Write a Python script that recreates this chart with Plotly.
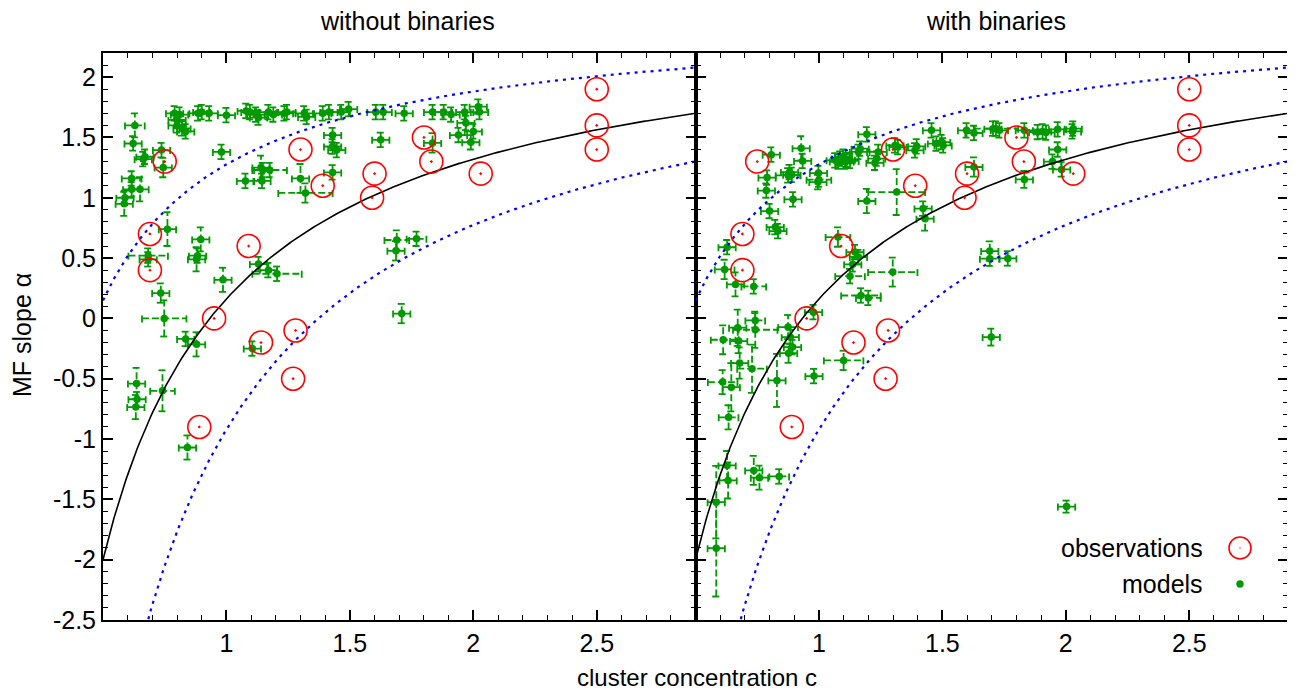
import plotly.graph_objects as go
import numpy as np

# ---------------- data ----------------
# observations (same in both panels)
obs_c = [0.75, 0.69, 0.69, 0.95, 1.09, 1.14, 1.28, 1.27, 0.89, 1.30, 1.39, 1.60, 1.59, 1.80, 1.83, 2.03, 2.50, 2.50, 2.50]
obs_a = [1.30, 0.70, 0.40, 0.00, 0.60, -0.20, -0.10, -0.50, -0.90, 1.40, 1.10, 1.20, 1.00, 1.50, 1.30, 1.20, 1.90, 1.60, 1.40]

# models without binaries
nb_c = [0.79, 0.81, 0.80, 0.80, 0.82, 0.835, 0.885, 0.90, 0.93, 1.00, 1.08, 1.095, 1.12, 1.13, 1.17, 1.19,
        1.235, 1.245, 1.315, 1.325, 1.39, 1.415, 1.465, 1.495, 1.605, 1.635, 1.72, 1.835, 1.88, 1.91, 1.965,
        2.025, 2.02, 1.97, 2.00, 1.94, 1.99, 1.43, 1.43, 1.447, 1.43, 1.625, 1.835, 0.737, 0.98,
        0.629, 0.622, 0.67, 0.663, 0.744, 0.616, 0.616, 0.65, 0.589, 0.586,
        1.077, 1.14, 1.147, 1.175, 1.144, 1.30, 1.32,
        0.761, 0.683, 0.683, 0.896, 0.883, 0.879, 0.986, 1.13, 1.17, 1.205, 0.734, 0.748, 0.835, 0.879,
        1.105, 0.636, 0.638, 0.633, 0.741, 0.842, 1.69, 1.77, 1.687, 1.71]
nb_a = [1.70, 1.69, 1.645, 1.60, 1.575, 1.55, 1.70, 1.71, 1.70, 1.685, 1.72, 1.71, 1.69, 1.665, 1.71, 1.69,
        1.70, 1.71, 1.70, 1.67, 1.70, 1.71, 1.71, 1.735, 1.71, 1.71, 1.70, 1.71, 1.71, 1.69, 1.71,
        1.71, 1.755, 1.62, 1.55, 1.52, 1.46, 1.52, 1.425, 1.395, 1.21, 1.48, 1.455, 1.395, 1.38,
        1.60, 1.45, 1.34, 1.32, 1.25, 1.16, 1.07, 1.07, 1.00, 0.95,
        1.14, 1.25, 1.23, 1.23, 1.14, 1.16, 1.04,
        0.74, 0.52, 0.49, 0.655, 0.52, 0.49, 0.32, 0.45, 0.40, 0.37, 0.21, 0.00, -0.17, -0.215,
        -0.25, -0.54, -0.67, -0.735, -0.60, -1.07, 0.65, 0.66, 0.56, 0.04]
nb_cerr = [0.035] * 45 + [0.04, 0.035, 0.035, 0.035, 0.035, 0.04, 0.035, 0.035, 0.035, 0.035] + \
          [0.035, 0.035, 0.035, 0.07, 0.035, 0.035, 0.11] + \
          [0.035, 0.08, 0.035, 0.035, 0.035, 0.035, 0.035, 0.035, 0.035, 0.10, 0.035, 0.09, 0.035, 0.035,
           0.035, 0.035, 0.035, 0.035, 0.05, 0.035, 0.05, 0.04, 0.035, 0.035]
nb_aerr = [0.06] * 42 + [0.08, 0.06, 0.06] + \
          [0.10, 0.06, 0.06, 0.06, 0.08, 0.06, 0.06, 0.10, 0.06, 0.10] + \
          [0.06, 0.10, 0.06, 0.06, 0.06, 0.12, 0.08] + \
          [0.14, 0.06, 0.06, 0.10, 0.06, 0.10, 0.10, 0.06, 0.06, 0.06, 0.08, 0.15, 0.06, 0.10,
           0.06, 0.13, 0.06, 0.10, 0.17, 0.10, 0.08, 0.06, 0.08, 0.08]

# models with binaries
wb_c = [0.807, 0.928, 0.79, 0.787, 0.895, 0.80, 0.823, 0.834, 0.881, 0.89, 0.875, 0.934, 0.998, 0.996, 1.00,
        1.066, 1.086, 1.099, 1.111, 1.126, 1.106, 1.079, 1.167, 1.194, 1.16, 1.24, 1.234, 1.227, 1.194, 1.315,
        1.308, 1.32, 1.396, 1.389, 1.456, 1.476, 1.497, 1.503, 1.598, 1.628, 1.705, 1.628, 1.422, 1.43,
        1.717, 1.731, 1.832, 1.886, 1.906, 1.92, 1.967, 2.027, 2.03, 1.967, 1.946, 1.983, 1.832,
        0.628, 0.618, 0.662, 0.736, 1.077, 1.146, 1.16, 1.137, 1.126, 1.17, 1.20, 1.299, 0.978,
        0.742, 0.742, 0.671, 0.675, 0.612, 0.875, 0.884, 0.893, 0.877, 0.679, 0.729, 0.61, 0.645, 0.83,
        1.10, 0.98, 0.634, 1.692, 1.692, 1.765, 1.698, 0.628, 0.632, 0.584, 0.584, 0.736, 0.759, 0.839, 2.003]
wb_a = [1.357, 1.41, 1.167, 1.06, 0.987, 0.89, 0.757, 0.724, 1.213, 1.19, 1.186, 1.305, 1.205, 1.13, 1.15,
        1.31, 1.325, 1.34, 1.315, 1.305, 1.30, 1.30, 1.407, 1.526, 1.38, 1.38, 1.325, 1.29, 0.973, 1.047,
        1.434, 1.42, 1.426, 1.393, 1.559, 1.449, 1.462, 1.434, 1.559, 1.537, 1.573, 1.255, 0.91, 0.827,
        1.573, 1.559, 1.559, 1.545, 1.55, 1.54, 1.567, 1.55, 1.573, 1.40, 1.30, 1.235, 1.152,
        0.59, 0.406, 0.282, 0.265, 0.674, 0.55, 0.508, 0.448, 0.35, 0.19, 0.17, 0.384, 0.052,
        -0.017, -0.094, -0.077, -0.188, -0.177, -0.072, -0.155, -0.238, -0.288, -0.37, -0.417, -0.528, -0.57, -0.514,
        -0.348, -0.478, -0.82, 0.558, 0.495, 0.497, -0.155, -1.219, -1.343, -1.523, -1.905, -1.26, -1.32, -1.31, -1.56]
wb_cerr = [0.035] * 10 + [0.05, 0.035, 0.035, 0.035, 0.05] + [0.035] * 14 + [0.115] + \
          [0.035] * 13 + [0.035, 0.09] + [0.035] * 13 + \
          [0.04, 0.035, 0.05, 0.05, 0.035, 0.035, 0.035, 0.06, 0.08, 0.05, 0.10, 0.035, 0.04] + \
          [0.09, 0.035, 0.035, 0.05, 0.04, 0.035, 0.035, 0.035, 0.035, 0.06, 0.06, 0.035, 0.035, 0.08] + \
          [0.035, 0.04, 0.035, 0.04, 0.035, 0.035, 0.035, 0.035, 0.035, 0.035, 0.035, 0.035, 0.04, 0.035]
wb_aerr = [0.06, 0.10] + [0.06] * 26 + [0.10, 0.19] + \
          [0.06] * 11 + [0.08, 0.06, 0.10] + [0.06] * 12 + [0.07] + \
          [0.06, 0.08, 0.10, 0.06, 0.08, 0.06, 0.06, 0.06, 0.06, 0.06, 0.06, 0.12, 0.06] + \
          [0.06, 0.15, 0.15, 0.10, 0.12, 0.10, 0.06, 0.06, 0.08, 0.13, 0.20, 0.10, 0.20, 0.22] + \
          [0.08, 0.06, 0.10, 0.08, 0.06, 0.06, 0.07, 0.12, 0.15, 0.30, 0.40, 0.12, 0.10, 0.06, 0.05]

# fitted relations alpha(c) = A - B * c**(-p)
fit_mid = (2.6575, 2.496, 0.9)
fit_upper = (2.579, 1.302, 0.9)
fit_lower = (2.47, 3.39, 1.0)

x_ticks = [1, 1.5, 2, 2.5]
x_ticklabels = ["1", "1.5", "2", "2.5"]
y_ticks = [-2.5, -2, -1.5, -1, -0.5, 0, 0.5, 1, 1.5, 2]
y_ticklabels = ["-2.5", "-2", "-1.5", "-1", "-0.5", "0", "0.5", "1", "1.5", "2"]
panel_titles = ["without binaries", "with binaries"]

# ---------------- style ----------------
FONT = "Liberation Sans"
FS = 25
GREEN = "#009a00"
XR = [0.5, 2.9]
YR = [-2.5, 2.2]
OFF = 8  # default page body margin
W, H = 1295 - OFF, 690 - OFF
PL, PR, PT, PB = 103, 1288, 53, 620   # plot area in page pixels
ML, MR, MT, MB = PL - OFF, W + OFF - PR, PT - OFF, H + OFF - PB
pw = (PR - PL) / 2.0
ph = PB - PT
capx = 4 * (XR[1] - XR[0]) / pw
capy = 4 * (YR[1] - YR[0]) / ph


def px2paper(x, y):
    return (x - PL) / (PR - PL), 1 - (y - PT) / ph


def err_path(cs, als, ce, ae):
    px, py = [], []
    for c, a, dc, da in zip(cs, als, ce, ae):
        segs = [((c - dc, a), (c + dc, a)),
                ((c, a - da), (c, a + da)),
                ((c - dc, a - capy), (c - dc, a + capy)),
                ((c + dc, a - capy), (c + dc, a + capy)),
                ((c - capx, a - da), (c + capx, a - da)),
                ((c - capx, a + da), (c + capx, a + da))]
        for (x0, y0), (x1, y1) in segs:
            px += [x0, x1, None]
            py += [y0, y1, None]
    return px, py


fig = go.Figure()
cgrid = np.linspace(0.5, 2.9, 400)

for i, (cs, als, ce, ae) in enumerate([(nb_c, nb_a, nb_cerr, nb_aerr), (wb_c, wb_a, wb_cerr, wb_aerr)]):
    xa = "x" if i == 0 else "x2"
    ya = "y" if i == 0 else "y2"
    ex, ey = err_path(cs, als, ce, ae)
    fig.add_trace(go.Scatter(x=ex, y=ey, mode="lines", xaxis=xa, yaxis=ya, showlegend=False,
                             line=dict(color=GREEN, width=1.8, dash="7px,3px"), hoverinfo="skip"))
    fig.add_trace(go.Scatter(x=cs, y=als, mode="markers", xaxis=xa, yaxis=ya, showlegend=False,
                             marker=dict(color=GREEN, size=7.5, line=dict(width=0))))
    for (A, B, p), col, dash, wdt in [(fit_mid, "black", "solid", 1.6),
                                      (fit_upper, "#0000ff", "3px,5px", 2.2),
                                      (fit_lower, "#0000ff", "3px,5px", 2.2)]:
        fig.add_trace(go.Scatter(x=cgrid, y=A - B * cgrid ** (-p), mode="lines", xaxis=xa, yaxis=ya,
                                 showlegend=False, line=dict(color=col, width=wdt, dash=dash), hoverinfo="skip"))
    fig.add_trace(go.Scatter(x=obs_c, y=obs_a, mode="markers", xaxis=xa, yaxis=ya, showlegend=False,
                             marker=dict(symbol="circle-open-dot", size=23, color="red", line=dict(color="red", width=1.6))))

minor_x = dict(dtick=0.1, tick0=0.5, ticks="inside", ticklen=5, tickwidth=1.2, tickcolor="black")
minor_y = dict(dtick=0.1, tick0=0, ticks="inside", ticklen=5, tickwidth=1.2, tickcolor="black")
axis_common = dict(showgrid=False, zeroline=False, showline=True, linecolor="black", linewidth=2,
                   mirror="ticks", ticks="inside", ticklen=10, tickwidth=1.5, tickcolor="black",
                   tickfont=dict(family=FONT, size=FS, color="black"), tickmode="array")

fig.update_layout(
    width=W, height=H, margin=dict(l=ML, r=MR, t=MT, b=MB, autoexpand=False),
    paper_bgcolor="white", plot_bgcolor="white", showlegend=False,
    xaxis=dict(domain=[0, 0.5], anchor="y", range=XR, tickvals=x_ticks, ticktext=x_ticklabels, minor=minor_x, **axis_common),
    xaxis2=dict(domain=[0.5, 1], anchor="y2", range=XR, tickvals=x_ticks, ticktext=x_ticklabels, minor=minor_x, **axis_common),
    yaxis=dict(anchor="x", range=YR, tickvals=y_ticks, ticktext=y_ticklabels, minor=minor_y, **axis_common),
    yaxis2=dict(anchor="x2", range=YR, matches="y", showticklabels=False, tickvals=y_ticks, minor=minor_y, **axis_common),
)

txt = dict(family=FONT, size=FS, color="black")


def ann(text, px, py, **kw):
    x, y = px2paper(px, py)
    d = dict(text=text, x=x, y=y, xref="paper", yref="paper", showarrow=False, font=txt,
             xanchor="center", yanchor="middle")
    d.update(kw)
    return d


fig.update_layout(annotations=[
    ann(panel_titles[0], 407, 21),
    ann(panel_titles[1], 996, 21),
    ann("cluster concentration c", 697, 677, font=dict(family=FONT, size=24, color="black")),
    ann("MF slope α", 22, 335, textangle=-90),
    ann("observations", 1205, 548, xanchor="right"),
    ann("models", 1205, 584, xanchor="right"),
])


def circ(x0, y0, x1, y1, **kw):
    a0, b0 = px2paper(x0, y1)
    a1, b1 = px2paper(x1, y0)
    d = dict(type="circle", xref="paper", yref="paper", x0=a0, y0=b0, x1=a1, y1=b1)
    d.update(kw)
    return d


fig.update_layout(shapes=[
    circ(1229, 537, 1251, 559, line=dict(color="red", width=1.6)),
    circ(1239.3, 547.3, 1240.7, 548.7, fillcolor="red", line=dict(color="red", width=0)),
    circ(1236.3, 580.3, 1243.7, 587.7, fillcolor=GREEN, line=dict(color=GREEN, width=0)),
])

fig.write_html("out.html")
